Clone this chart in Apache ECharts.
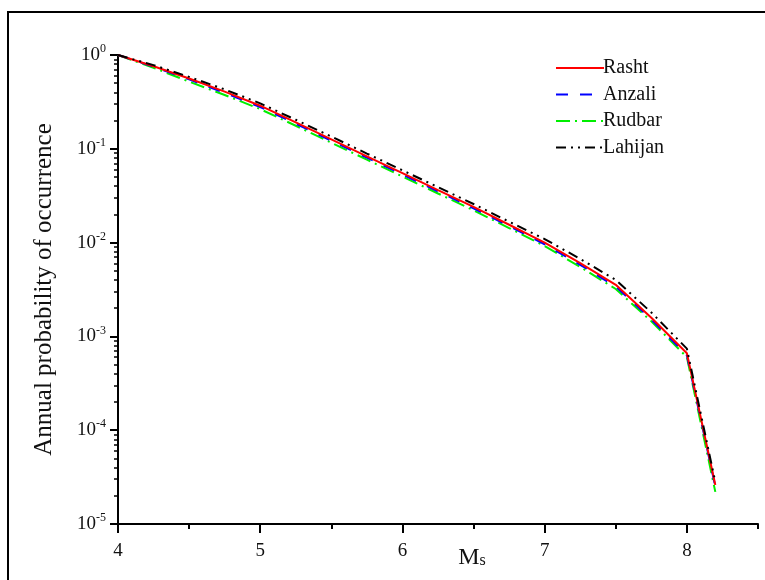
<!DOCTYPE html>
<html>
<head>
<meta charset="utf-8">
<script src="https://cdn.jsdelivr.net/npm/echarts@6/dist/echarts.min.js"></script>
<style>html,body{margin:0;padding:0;background:#fff}#c{width:765px;height:580px}</style>
</head>
<body>
<div id="c"></div>
<script>
var magnitudes = [4.0, 4.25, 4.5, 4.75, 5.0, 5.25, 5.5, 5.75, 6.0, 6.25, 6.5, 6.75, 7.0, 7.25, 7.5, 7.75, 8.0, 8.2];
var rasht   = [1, 0.759, 0.562, 0.407, 0.288, 0.191, 0.126, 0.0832, 0.0550, 0.0363, 0.0240, 0.0155, 0.0100, 0.00603, 0.00355, 0.00158, 0.00066, 0.000026];
var anzali  = [1, 0.750, 0.550, 0.395, 0.279, 0.185, 0.122, 0.0805, 0.0532, 0.0351, 0.0232, 0.0150, 0.0096, 0.0058, 0.0034, 0.00152, 0.00063, 0.000025];
var rudbar  = [1, 0.730, 0.520, 0.375, 0.265, 0.176, 0.116, 0.0766, 0.0506, 0.0334, 0.0221, 0.0143, 0.0092, 0.0055, 0.0032, 0.00145, 0.00060, 0.000022];
var lahijan = [1, 0.780, 0.585, 0.430, 0.305, 0.204, 0.135, 0.0890, 0.0590, 0.0390, 0.0258, 0.0167, 0.0109, 0.0067, 0.0040, 0.00180, 0.00074, 0.000028];
var seriesNames = ['Rasht', 'Anzali', 'Rudbar', 'Lahijan'];
var xMajorTicks = [4, 5, 6, 7, 8];
var xMinorTicks = [4.5, 5.5, 6.5, 7.5, 8.5];

function pairs(ys) { return magnitudes.map(function (m, i) { return [m, ys[i]]; }); }
var minorYExp = [];
for (var e = -5; e <= -1; e++) for (var k = 2; k <= 9; k++) minorYExp.push(e + Math.log10(k));

var serif = 'Liberation Serif';
var chart = echarts.init(document.getElementById('c'));
chart.setOption({
  animation: false,
  backgroundColor: '#fff',
  graphic: [{
    type: 'rect', shape: {x: 8, y: 12, width: 820, height: 640},
    style: {fill: 'none', stroke: '#000', lineWidth: 2}, silent: true
  }],
  grid: {left: 118, top: 55, right: 7, bottom: 56, containLabel: false, outerBoundsMode: 'none'},
  legend: {
    orient: 'vertical', left: 550, top: 53, itemWidth: 48, itemHeight: 14, itemGap: 6.5,
    itemStyle: {opacity: 0, borderWidth: 0},
    textStyle: {fontFamily: serif, fontSize: 20, color: '#111', padding: [0,0,0,-6]},
    data: seriesNames
  },
  xAxis: [{
    type: 'value', min: 4, max: 8.5,
    name: 'M{s|s}', nameLocation: 'middle', nameGap: 22, nameMoveOverlap: false,
    nameTextStyle: {fontFamily: serif, fontSize: 24, color: '#111', padding: [0,0,0,68],
      rich: {s: {fontFamily: serif, fontSize: 16, color: '#111', padding: [6,0,0,0]}}},
    axisLine: {onZero: false, lineStyle: {color: '#000', width: 2}},
    axisTick: {length: 9, lineStyle: {color: '#000', width: 2}, customValues: xMajorTicks},
    axisLabel: {fontFamily: serif, fontSize: 19, color: '#111', margin: 18, customValues: xMajorTicks},
    splitLine: {show: false}
  }, {
    type: 'value', min: 4, max: 8.5, position: 'bottom',
    axisLine: {show: false, onZero: false},
    axisLabel: {show: false},
    axisTick: {show: true, length: 5, lineStyle: {color: '#000', width: 2}, customValues: xMinorTicks},
    splitLine: {show: false}
  }],
  yAxis: [{
    type: 'log', logBase: 10, min: 1e-5, max: 1,
    name: 'Annual probability of occurrence', nameLocation: 'middle', nameGap: 61, nameRotate: 90,
    nameTextStyle: {fontFamily: serif, fontSize: 25, color: '#111'},
    axisLine: {onZero: false, lineStyle: {color: '#000', width: 2}},
    axisTick: {length: 8, lineStyle: {color: '#000', width: 2}},
    axisLabel: {fontFamily: serif, fontSize: 19, color: '#111', margin: 12,
      formatter: function (v) { var ex = Math.round(Math.log10(v)); return '10{sup|' + String(ex) + '}'; },
      rich: {sup: {fontFamily: serif, fontSize: 12, color: '#111', padding: [0,0,12,0]}}},
    splitLine: {show: false}
  }, {
    type: 'value', min: -5, max: 0, position: 'left',
    axisLine: {show: false, onZero: false},
    axisLabel: {show: false},
    axisTick: {show: true, length: 4, lineStyle: {color: '#000', width: 1.5}, customValues: minorYExp},
    splitLine: {show: false}
  }],
  series: [
    {name: 'Rasht', type: 'line', data: pairs(rasht), showSymbol: false, symbol: 'none', z: 4,
      lineStyle: {color: '#ff0000', width: 2, type: 'solid'}, itemStyle: {color: '#ff0000'}},
    {name: 'Anzali', type: 'line', data: pairs(anzali), showSymbol: false, symbol: 'none', z: 3,
      lineStyle: {color: '#0000ff', width: 2, type: [12, 12]}, itemStyle: {color: '#0000ff'}},
    {name: 'Rudbar', type: 'line', data: pairs(rudbar), showSymbol: false, symbol: 'none', z: 2,
      lineStyle: {color: '#00ee00', width: 2, type: [14, 5, 2, 5]}, itemStyle: {color: '#00ee00'}},
    {name: 'Lahijan', type: 'line', data: pairs(lahijan), showSymbol: false, symbol: 'none', z: 5,
      lineStyle: {color: '#000000', width: 2, type: [10, 5, 2, 5, 2, 5]}, itemStyle: {color: '#000000'}}
  ]
});
</script>
</body>
</html>
